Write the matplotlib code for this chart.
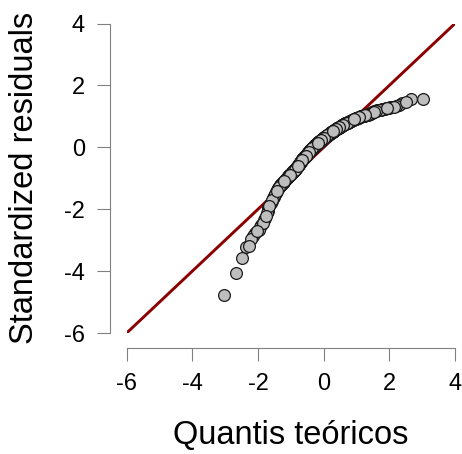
from statistics import NormalDist

import numpy as np
import matplotlib
matplotlib.use("Agg")
import matplotlib.pyplot as plt

plt.rcParams['font.family'] = ['Liberation Sans', 'DejaVu Sans']
plt.rcParams['axes.unicode_minus'] = False

# sorted standardized residuals (n = 400)
resid = [
    -4.76, -4.07, -3.57, -3.23, -3.20, -2.95, -2.87, -2.78, -2.72, -2.66,
    -2.58, -2.50, -2.44, -2.36, -2.29, -2.21, -2.13, -2.05, -1.97, -1.90,
    -1.84, -1.79, -1.74, -1.69, -1.64, -1.60, -1.56, -1.52, -1.48, -1.44,
    -1.41, -1.38, -1.35, -1.32, -1.29, -1.27, -1.25, -1.23, -1.21, -1.19,
    -1.17, -1.16, -1.14, -1.12, -1.11, -1.09, -1.08, -1.06, -1.05, -1.03,
    -1.02, -1.01, -0.99, -0.98, -0.97, -0.95, -0.94, -0.93, -0.91, -0.90,
    -0.89, -0.88, -0.87, -0.86, -0.85, -0.84, -0.83, -0.81, -0.80, -0.79,
    -0.78, -0.77, -0.76, -0.75, -0.74, -0.73, -0.72, -0.71, -0.69, -0.68,
    -0.67, -0.66, -0.64, -0.63, -0.62, -0.61, -0.60, -0.58, -0.57, -0.56,
    -0.54, -0.53, -0.52, -0.51, -0.50, -0.48, -0.47, -0.46, -0.45, -0.43,
    -0.42, -0.41, -0.40, -0.39, -0.38, -0.37, -0.36, -0.35, -0.35, -0.34,
    -0.33, -0.32, -0.31, -0.30, -0.29, -0.28, -0.28, -0.27, -0.26, -0.25,
    -0.24, -0.23, -0.22, -0.21, -0.20, -0.19, -0.18, -0.17, -0.16, -0.16,
    -0.15, -0.14, -0.13, -0.12, -0.11, -0.10, -0.10, -0.09, -0.08, -0.07,
    -0.06, -0.05, -0.05, -0.04, -0.03, -0.03, -0.02, -0.01, -0.01, 0.00,
    0.01, 0.02, 0.02, 0.03, 0.04, 0.05, 0.05, 0.06, 0.07, 0.08,
    0.08, 0.09, 0.09, 0.10, 0.10, 0.11, 0.11, 0.12, 0.13, 0.13,
    0.14, 0.14, 0.15, 0.15, 0.16, 0.17, 0.17, 0.18, 0.18, 0.19,
    0.20, 0.20, 0.21, 0.21, 0.22, 0.22, 0.23, 0.23, 0.24, 0.24,
    0.25, 0.25, 0.26, 0.26, 0.27, 0.27, 0.28, 0.28, 0.29, 0.30,
    0.30, 0.31, 0.31, 0.32, 0.32, 0.33, 0.33, 0.34, 0.34, 0.35,
    0.35, 0.36, 0.36, 0.37, 0.37, 0.38, 0.38, 0.39, 0.39, 0.40,
    0.40, 0.41, 0.41, 0.42, 0.42, 0.43, 0.43, 0.44, 0.44, 0.45,
    0.45, 0.46, 0.46, 0.47, 0.47, 0.48, 0.48, 0.49, 0.49, 0.50,
    0.50, 0.51, 0.51, 0.52, 0.52, 0.53, 0.53, 0.54, 0.54, 0.54,
    0.55, 0.55, 0.56, 0.56, 0.57, 0.57, 0.58, 0.58, 0.59, 0.59,
    0.60, 0.60, 0.61, 0.61, 0.62, 0.62, 0.63, 0.63, 0.63, 0.64,
    0.64, 0.65, 0.65, 0.66, 0.66, 0.67, 0.67, 0.67, 0.68, 0.68,
    0.69, 0.69, 0.70, 0.70, 0.71, 0.71, 0.71, 0.72, 0.72, 0.73,
    0.73, 0.74, 0.74, 0.75, 0.75, 0.75, 0.76, 0.76, 0.77, 0.77,
    0.78, 0.78, 0.79, 0.79, 0.79, 0.80, 0.80, 0.81, 0.81, 0.82,
    0.82, 0.82, 0.83, 0.83, 0.84, 0.84, 0.85, 0.85, 0.85, 0.86,
    0.86, 0.87, 0.87, 0.88, 0.88, 0.89, 0.89, 0.90, 0.90, 0.91,
    0.91, 0.92, 0.92, 0.93, 0.93, 0.94, 0.94, 0.95, 0.95, 0.96,
    0.96, 0.96, 0.97, 0.97, 0.98, 0.98, 0.99, 0.99, 1.00, 1.00,
    1.00, 1.01, 1.01, 1.01, 1.02, 1.02, 1.02, 1.03, 1.03, 1.03,
    1.04, 1.04, 1.05, 1.06, 1.06, 1.07, 1.08, 1.08, 1.09, 1.10,
    1.11, 1.12, 1.13, 1.14, 1.15, 1.16, 1.16, 1.17, 1.18, 1.19,
    1.20, 1.20, 1.21, 1.22, 1.23, 1.23, 1.24, 1.25, 1.26, 1.27,
    1.28, 1.29, 1.30, 1.31, 1.33, 1.37, 1.42, 1.47, 1.56, 1.57,
]
ticks = [-6, -4, -2, 0, 2, 4]
xlabel = "Quantis teóricos"
ylabel = "Standardized residuals"

# theoretical quantiles as in R's qqnorm (ppoints, a = 0.5)
y = np.sort(np.array(resid))
n = len(y)
nd = NormalDist()
x = np.array([nd.inv_cdf((i + 0.5) / n) for i in range(n)])

# qqnorm draws points in data order, not sorted: use a fixed stride order
order = (np.arange(n) * 157) % n
x, y = x[order], y[order]

fig = plt.figure(figsize=(4.62, 4.54), dpi=100)
ax = fig.add_axes([0.2742, 0.2665, 0.7106, 0.6817])

ax.axline((0, 0), slope=1, color='#8b0000', lw=2.1, zorder=1)
ax.scatter(x, y, s=72, facecolor='#bebebe', edgecolor='#1a1a1a',
           linewidths=0.9, zorder=2)

ax.set_xlim(-6, 4)
ax.set_ylim(-6, 4)
ax.set_xticks(ticks)
ax.set_yticks(ticks)

for side in ['top', 'right']:
    ax.spines[side].set_visible(False)
ax.spines['left'].set_position(('outward', 12))
ax.spines['bottom'].set_position(('outward', 11))
for side in ['left', 'bottom']:
    ax.spines[side].set_color('#808080')
    ax.spines[side].set_linewidth(0.8)
ax.tick_params(length=9.5, width=0.8, color='#808080', labelsize=17, pad=8.5)

ax.set_xlabel(xlabel, fontsize=23.5)
ax.set_ylabel(ylabel, fontsize=23.5)
ax.xaxis.label.set_va('center')
ax.yaxis.label.set_va('center')
ax.xaxis.set_label_coords(0.5, -0.33)
ax.yaxis.set_label_coords(-0.31, 0.5)

fig.savefig('out.png', dpi=100)
